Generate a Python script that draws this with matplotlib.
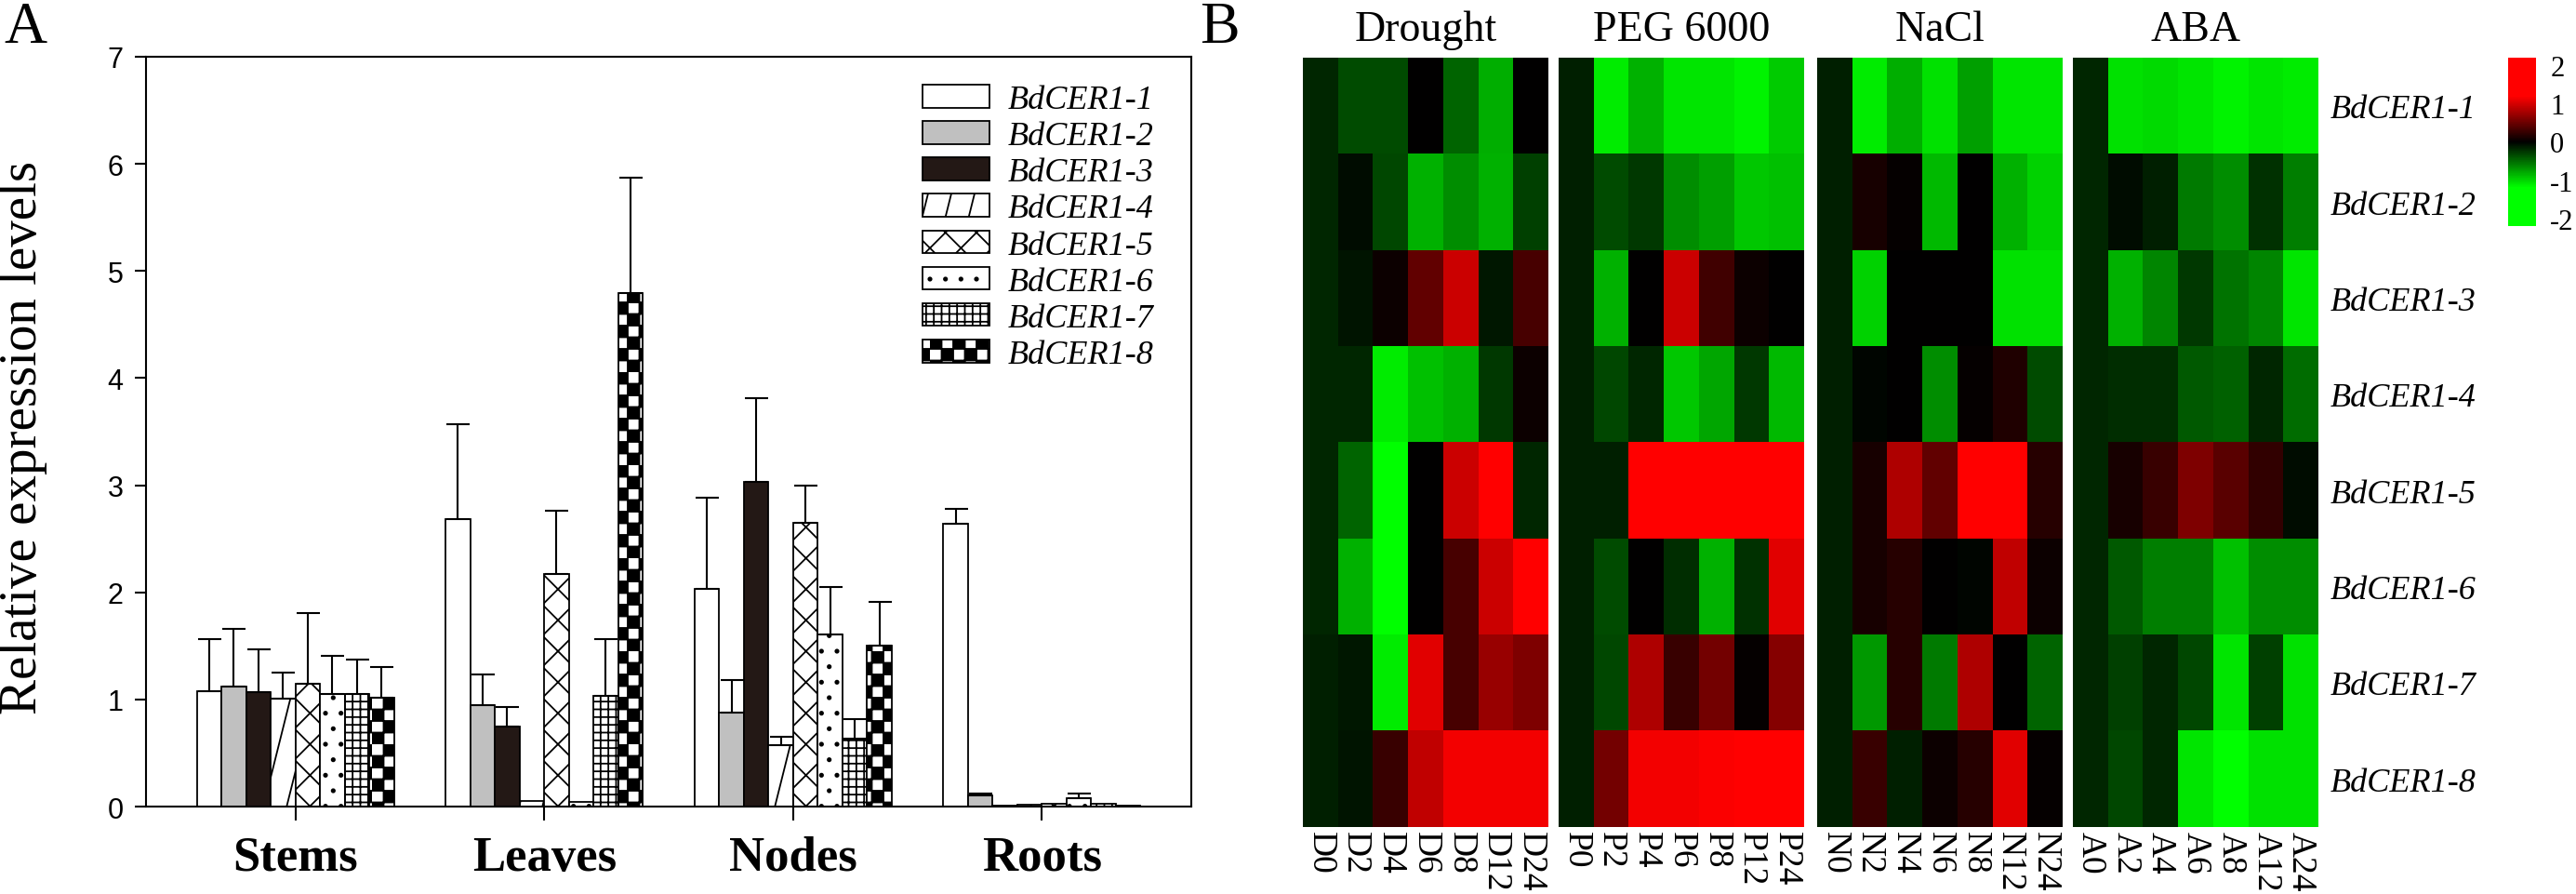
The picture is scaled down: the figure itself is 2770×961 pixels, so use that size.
import numpy as np
import matplotlib
matplotlib.use('Agg')
import matplotlib.pyplot as plt
import matplotlib.hatch as mhatch
from matplotlib.path import Path
from matplotlib.patches import Patch
from matplotlib.colors import LinearSegmentedColormap, Normalize

# ---------------- data ----------------
tissues = ['Stems', 'Leaves', 'Nodes', 'Roots']
genes = ['BdCER1-1', 'BdCER1-2', 'BdCER1-3', 'BdCER1-4',
         'BdCER1-5', 'BdCER1-6', 'BdCER1-7', 'BdCER1-8']

stems = [1.08, 1.12, 1.07, 1.01, 1.15, 1.05, 1.05, 1.02]
stems_err = [0.48, 0.54, 0.40, 0.24, 0.66, 0.36, 0.32, 0.28]
leaves = [2.68, 0.95, 0.75, 0.05, 2.17, 0.04, 1.03, 4.79]
leaves_err = [0.89, 0.28, 0.18, 0.0, 0.59, 0.0, 0.53, 1.08]
nodes = [2.03, 0.88, 3.03, 0.57, 2.65, 1.61, 0.63, 1.50]
nodes_err = [0.85, 0.30, 0.78, 0.08, 0.35, 0.44, 0.19, 0.41]
roots = [2.64, 0.10, 0.01, 0.02, 0.03, 0.08, 0.03, 0.01]
roots_err = [0.14, 0.02, 0.0, 0.0, 0.0, 0.04, 0.0, 0.0]

yticks = [0, 1, 2, 3, 4, 5, 6, 7]

treatments = ['Drought', 'PEG 6000', 'NaCl', 'ABA']
drought_cols = ['D0', 'D2', 'D4', 'D6', 'D8', 'D12', 'D24']
peg_cols = ['P0', 'P2', 'P4', 'P6', 'P8', 'P12', 'P24']
nacl_cols = ['N0', 'N2', 'N4', 'N6', 'N8', 'N12', 'N24']
aba_cols = ['A0', 'A2', 'A4', 'A6', 'A8', 'A12', 'A24']

drought = [
    [-0.18, -0.36, -0.36, 0.00, -0.48, -0.81, 0.00],
    [-0.18, -0.06, -0.33, -0.84, -0.66, -0.84, -0.30],
    [-0.18, -0.09, 0.06, 0.45, 0.96, -0.12, 0.33],
    [-0.18, -0.18, -1.11, -0.90, -0.84, -0.27, 0.06],
    [-0.18, -0.48, -1.35, 0.00, 0.96, 1.45, -0.18],
    [-0.18, -0.84, -1.40, 0.00, 0.33, 0.96, 1.50],
    [-0.15, -0.12, -1.11, 1.05, 0.33, 0.72, 0.60],
    [-0.15, -0.09, 0.27, 0.90, 1.14, 1.14, 1.14],
]
peg = [
    [-0.15, -1.11, -0.84, -1.08, -1.08, -1.14, -0.96],
    [-0.15, -0.36, -0.27, -0.66, -0.75, -0.93, -0.90],
    [-0.15, -0.84, 0.00, 0.96, 0.30, 0.06, 0.00],
    [-0.15, -0.33, -0.18, -0.93, -0.78, -0.27, -0.87],
    [-0.15, -0.15, 1.62, 1.70, 1.58, 1.66, 1.75],
    [-0.15, -0.36, 0.00, -0.21, -0.84, -0.24, 1.05],
    [-0.15, -0.33, 0.81, 0.27, 0.54, 0.03, 0.63],
    [-0.15, 0.54, 1.14, 1.14, 1.17, 1.25, 1.30],
]
nacl = [
    [-0.15, -1.11, -0.81, -1.05, -0.75, -1.08, -1.08],
    [-0.15, 0.12, 0.03, -0.87, 0.00, -0.84, -0.99],
    [-0.15, -0.99, 0.00, 0.00, 0.00, -1.05, -1.05],
    [-0.15, -0.03, 0.00, -0.66, 0.03, 0.15, -0.36],
    [-0.15, 0.12, 0.81, 0.45, 1.45, 1.38, 0.18],
    [-0.15, 0.12, 0.18, 0.00, -0.03, 0.90, 0.06],
    [-0.15, -0.72, 0.18, -0.57, 0.81, 0.00, -0.48],
    [-0.15, 0.27, -0.15, 0.06, 0.18, 1.05, 0.03],
]
aba = [
    [-0.18, -1.05, -1.02, -1.08, -1.14, -1.08, -1.11],
    [-0.18, -0.06, -0.15, -0.57, -0.66, -0.24, -0.60],
    [-0.18, -0.84, -0.63, -0.27, -0.54, -0.63, -1.08],
    [-0.18, -0.21, -0.21, -0.42, -0.45, -0.18, -0.51],
    [-0.18, 0.12, 0.27, 0.60, 0.42, 0.24, -0.06],
    [-0.18, -0.42, -0.60, -0.60, -0.90, -0.66, -0.66],
    [-0.18, -0.30, -0.18, -0.33, -1.08, -0.30, -1.05],
    [-0.18, -0.33, -0.18, -1.08, -1.25, -1.05, -1.05],
]
cbar_ticks = [-2, -1, 0, 1, 2]

# ---------------- custom hatches ----------------
class SteepHatch(mhatch.HatchPatternBase):
    """steep '/' lines, triggered by 'o'"""
    def __init__(self, hatch, density):
        self.n = hatch.count('o') * 4
        self.num_vertices = (self.n + 2) * 2 if self.n else 0

    def set_vertices_and_codes(self, vertices, codes):
        n = self.n
        k = 0
        for j in range(-1, n + 1):
            c = j / n
            vertices[k] = [c - 0.1 / n, -0.1]
            vertices[k + 1] = [c + 1.1 / n, 1.1]
            codes[k] = Path.MOVETO
            codes[k + 1] = Path.LINETO
            k += 2


class CheckerHatch(mhatch.HatchPatternBase):
    """checkerboard, triggered by '*'"""
    def __init__(self, hatch, density):
        self.n = hatch.count('*') * 8
        self.num_vertices = (self.n * self.n // 2) * 5 if self.n else 0

    def set_vertices_and_codes(self, vertices, codes):
        n = self.n
        s = 1.0 / n
        k = 0
        for i in range(n):
            for j in range(n):
                if (i + j) % 2 == 0:
                    x0, y0 = i * s, j * s
                    vertices[k:k + 5] = [[x0, y0], [x0 + s, y0], [x0 + s, y0 + s],
                                         [x0, y0 + s], [x0, y0]]
                    codes[k:k + 5] = [Path.MOVETO, Path.LINETO, Path.LINETO,
                                      Path.LINETO, Path.CLOSEPOLY]
                    k += 5


mhatch._hatch_types = [SteepHatch if t is mhatch.SmallCircles else
                       (CheckerHatch if t is mhatch.Stars else t)
                       for t in mhatch._hatch_types]

# ---------------- figure ----------------
plt.rcParams['font.family'] = ['Liberation Serif', 'DejaVu Serif']
plt.rcParams['hatch.linewidth'] = 1.3

W, H = 2770, 962
fig = plt.figure(figsize=(W / 100, H / 100), dpi=100)


def fx(px):
    return px / W


def fy(py):
    return 1 - py / H


# ----- panel A: bars -----
ax = fig.add_axes([fx(157), fy(868), fx(1124), (868 - 62) / H])
faces = ['white', '#c0c0c0', '#231815', 'white', 'white', 'white', 'white', 'white']
hatches = [None, None, None, 'o', 'x', '.', '++', '*']

vals_all = np.array([stems, leaves, nodes, roots])
errs_all = np.array([stems_err, leaves_err, nodes_err, roots_err])
xc = np.arange(1, len(tissues) + 1)
w = 0.099
for i, g in enumerate(genes):
    pos = xc + (i - 3.5) * w
    v = vals_all[:, i]
    e = errs_all[:, i]
    ax.bar(pos, v, width=w, color=faces[i], edgecolor='black', linewidth=1.3,
           hatch=hatches[i], zorder=2)
    m = e > 0
    ax.errorbar(pos[m], v[m], yerr=[np.zeros(m.sum()), e[m]], fmt='none',
                ecolor='black', elinewidth=1.5, capsize=9, capthick=1.5, zorder=3)

ax.set_xlim(0.4, 4.6)
ax.set_ylim(0, 7)
ax.set_yticks(yticks)
ax.set_yticklabels([str(t) for t in yticks], family='Liberation Sans', fontsize=22)
ax.set_xticks(xc)
ax.set_xticklabels(tissues, fontsize=38, fontweight='bold')
ax.tick_params(axis='x', length=11, width=1.5, pad=11)
ax.tick_params(axis='y', length=8.5, width=1.5, pad=9)
for sp in ax.spines.values():
    sp.set_linewidth(1.5)

handles = [Patch(facecolor=faces[i], edgecolor='black', hatch=hatches[i], linewidth=1.3)
           for i in range(len(genes))]
ax.legend(handles, genes, loc='upper left', bbox_to_anchor=((992 - 157) / 1124, (868 - 92) / 806),
          frameon=False, borderpad=0, borderaxespad=0, handlelength=2.0, handleheight=0.67,
          handletextpad=0.55, labelspacing=0.17,
          prop={'family': 'Liberation Serif', 'style': 'italic', 'size': 26})

fig.text(fx(25), fy(470), 'Relative expression levels', rotation=90, ha='center', va='center',
         fontsize=41)
fig.text(fx(4), fy(2), 'A', ha='left', va='top', fontsize=46)
fig.text(fx(1290), fy(2), 'B', ha='left', va='top', fontsize=46)

# ----- panel B: heatmaps -----
cmap = LinearSegmentedColormap.from_list(
    'gbr', [(0.0, (0, 1, 0)), (1.0 / 4.4, (0, 1, 0)), (0.5, (0, 0, 0)),
            (3.4 / 4.4, (1, 0, 0)), (1.0, (1, 0, 0))])
norm = Normalize(vmin=-2.2, vmax=2.2)

hm_data = [drought, peg, nacl, aba]
hm_cols = [drought_cols, peg_cols, nacl_cols, aba_cols]
lefts = [1401, 1676, 1954, 2229]
im = None
for k in range(4):
    hx = fig.add_axes([fx(lefts[k]), fy(890), fx(264), (890 - 63) / H])
    im = hx.imshow(np.array(hm_data[k]), cmap=cmap, norm=norm, aspect='auto',
                   interpolation='nearest')
    hx.set_xticks(range(len(hm_cols[k])))
    hx.set_xticklabels(hm_cols[k], rotation=-90, fontsize=27)
    hx.tick_params(axis='x', length=0, pad=3)
    hx.set_title(treatments[k], fontsize=33, pad=14)
    for sp in hx.spines.values():
        sp.set_visible(False)
    if k == 3:
        hx.yaxis.tick_right()
        hx.set_yticks(range(len(genes)))
        hx.set_yticklabels(genes, fontsize=26, style='italic')
        hx.tick_params(axis='y', length=0, pad=9)
    else:
        hx.set_yticks([])

cax = fig.add_axes([fx(2697), fy(244), fx(30), (244 - 63) / H])
cb = fig.colorbar(im, cax=cax, ticks=cbar_ticks)
cb.outline.set_visible(False)
cb.ax.tick_params(length=0, pad=11, labelsize=22)
cb.ax.set_yticklabels([str(t) for t in cbar_ticks])

fig.savefig('out.png', dpi=100)
